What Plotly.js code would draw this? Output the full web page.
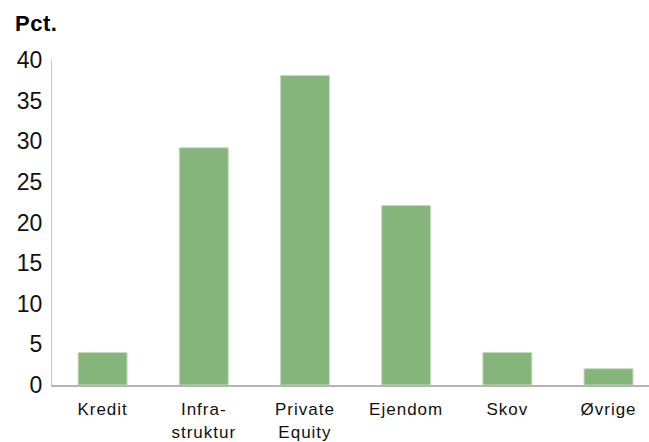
<!DOCTYPE html>
<html>
<head>
<meta charset="utf-8">
<script src="https://cdn.plot.ly/plotly-3.0.1.min.js"></script>
<style>
html,body{margin:0;padding:0;background:#fff;}
#chart{width:649px;height:442px;}
#chart .xtick text{letter-spacing:1px;}
#chart .gtitle{letter-spacing:0.5px;}
</style>
</head>
<body>
<div id="chart"></div>
<script>
const categories = ["Kredit", "Infra-<br>struktur", "Private<br>Equity", "Ejendom", "Skov", "Øvrige"];
const values = [4.0, 29.2, 38.1, 22.1, 4.0, 2.0];
const yTicks = [0, 5, 10, 15, 20, 25, 30, 35, 40];

const trace = {
  type: 'bar',
  x: categories,
  y: values,
  marker: {color: '#86B57C', line: {color: '#C4DDBE', width: 1}},
  hoverinfo: 'none'
};

const layout = {
  width: 649,
  height: 442,
  margin: {l: 52, r: 0, t: 59.5, b: 56.5},
  paper_bgcolor: '#ffffff',
  plot_bgcolor: '#ffffff',
  showlegend: false,
  bargap: 0.516,
  font: {family: 'Liberation Sans, Arial, sans-serif', color: '#111111', size: 17},
  title: {
    text: '<b>Pct.</b>',
    xref: 'container', yref: 'container',
    x: 15/649, xanchor: 'left',
    y: 1 - 16/442, yanchor: 'top',
    font: {family: 'Liberation Sans, Arial, sans-serif', size: 22, color: '#000000'}
  },
  xaxis: {
    type: 'category',
    range: [-0.5, 5.4],
    showgrid: false,
    zeroline: false,
    showline: true,
    linecolor: '#b5b5b5',
    linewidth: 2,
    ticks: '',
    ticklabelstandoff: 8,
    tickfont: {size: 17, color: '#111111'},
    fixedrange: true
  },
  yaxis: {
    range: [0, 40],
    tickvals: yTicks,
    ticktext: yTicks.map(String),
    showgrid: false,
    zeroline: false,
    showline: true,
    linecolor: '#c8c8c8',
    linewidth: 1,
    ticks: '',
    ticklabelstandoff: 4,
    tickfont: {size: 23, color: '#111111'},
    fixedrange: true
  }
};

Plotly.newPlot('chart', [trace], layout, {displayModeBar: false, staticPlot: true});
</script>
</body>
</html>
